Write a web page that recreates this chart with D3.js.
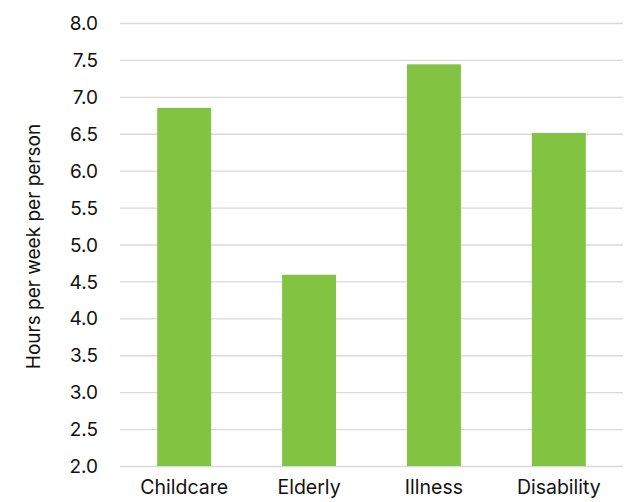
<!DOCTYPE html>
<html><head><meta charset="utf-8">
<script src="https://cdn.jsdelivr.net/npm/d3@7"></script>
<style>body{margin:0;background:#fff}svg{display:block}text{font-family:Inter,"Noto Sans",sans-serif;fill:#111}</style>
</head><body><svg id="c" width="624" height="502"></svg>
<script>
const categories = ["Childcare", "Elderly", "Illness", "Disability"];
const values = [6.85, 4.59, 7.44, 6.51];
const yTicks = [2.0, 2.5, 3.0, 3.5, 4.0, 4.5, 5.0, 5.5, 6.0, 6.5, 7.0, 7.5, 8.0];
const yTitle = "Hours per week per person";

const svg = d3.select("#c");
const m = {left: 120, right: 623, top: 23, bottom: 466};
const x = d3.scaleBand().domain(categories).range([121, 622]).paddingInner(0.568).paddingOuter(0.29);
const y = d3.scaleLinear().domain([2, 8]).range([m.bottom, m.top]);

const yAxis = svg.append("g").attr("transform", `translate(${m.left},0)`)
  .call(d3.axisLeft(y).tickValues(yTicks).tickFormat(d3.format(".1f")).tickSize(-(m.right - m.left)).tickPadding(22));
yAxis.select(".domain").remove();
yAxis.selectAll(".tick line").attr("stroke", "#d9d9d9").attr("stroke-width", 1.3);
yAxis.selectAll(".tick text").attr("font-size", 19).attr("dy", "0.35em");

svg.append("g").selectAll("rect").data(values).join("rect")
  .attr("x", (d, i) => x(categories[i]))
  .attr("width", x.bandwidth())
  .attr("y", d => y(d))
  .attr("height", d => y(2) - y(d))
  .attr("fill", "#82c341");

const xAxis = svg.append("g").attr("transform", `translate(0,${m.bottom})`)
  .call(d3.axisBottom(x).tickSize(0).tickPadding(14));
xAxis.select(".domain").remove();
xAxis.selectAll(".tick text").attr("font-size", 19.5).attr("dy", "0.71em");

svg.append("text").attr("transform", `translate(40,${(m.top + m.bottom) / 2 + 2}) rotate(-90)`)
  .attr("text-anchor", "middle").attr("font-size", 19).text(yTitle);
</script></body></html>
